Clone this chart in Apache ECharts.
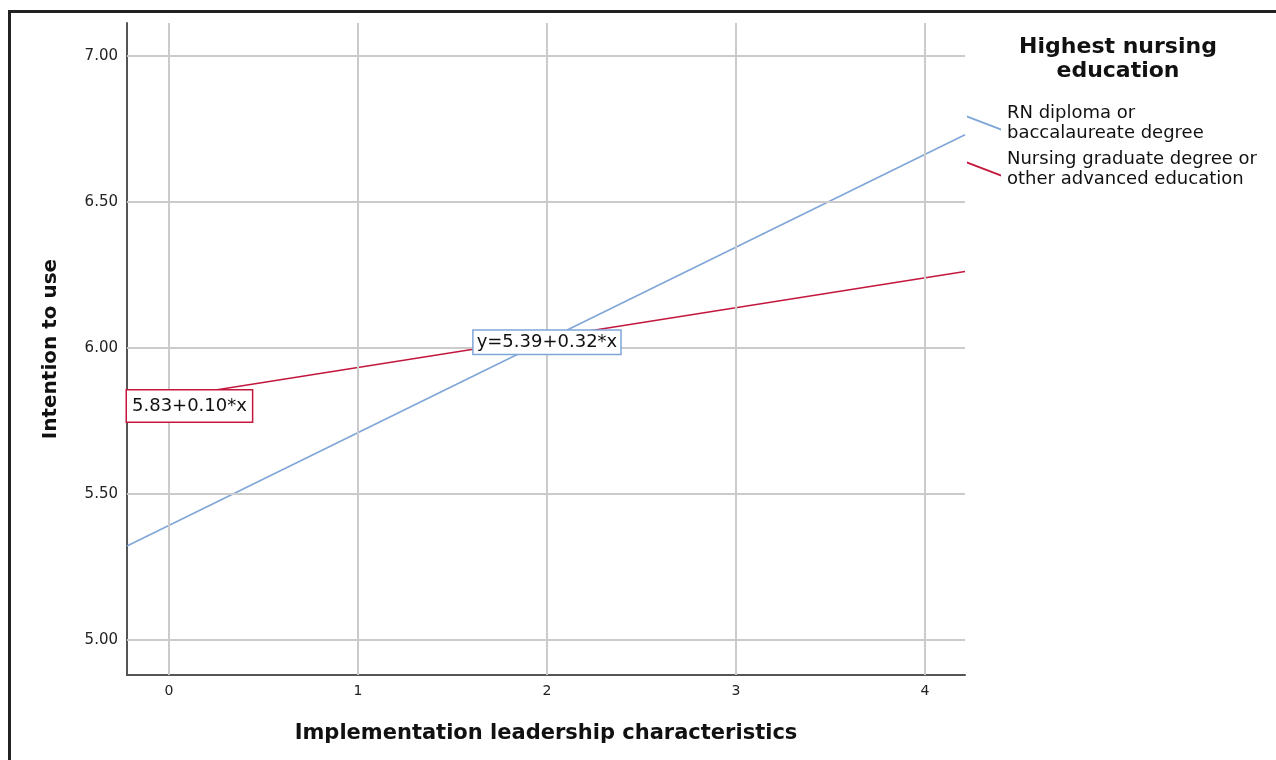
<!DOCTYPE html>
<html>
<head>
<meta charset="utf-8">
<script src="https://cdn.jsdelivr.net/npm/echarts@6/dist/echarts.min.js"></script>
<style>
html,body{margin:0;padding:0;background:#fff;}
#chart{width:1276px;height:760px;}
</style>
</head>
<body>
<div id="chart"></div>
<script>
// ---- data ----
var seriesNames = ['RN diploma or\nbaccalaureate degree', 'Nursing graduate degree or\nother advanced education'];
var xRange = [-0.222, 4.212];
var blueLine = [[-0.222, 5.322], [4.212, 6.73]];
var redLine = [[-0.222, 5.808], [4.212, 6.262]];
var blueLabel = 'y=5.39+0.32*x';
var redLabel = '5.83+0.10*x';
var blueLabelAt = [2, 6.03];
var redLabelAt = [-0.222, 5.808];
var yTicks = [5.0, 5.5, 6.0, 6.5, 7.0];
var xTicks = [0, 1, 2, 3, 4];
var yRange = [4.88, 7.113];

var BLUE = '#7fa6d8';
var RED = '#c4173d';
var FONT = 'DejaVu Sans';

var chart = echarts.init(document.getElementById('chart'), null, {renderer: 'canvas'});
var iconPath = 'path://M0,0 L34,13 L34,15 L0,2 Z';

chart.setOption({
  animation: false,
  backgroundColor: '#fff',
  textStyle: {fontFamily: FONT},
  title: {
    text: 'Highest nursing\neducation',
    left: 1113,
    top: 30,
    textAlign: 'center',
    textStyle: {fontFamily: FONT, fontWeight: 'bold', fontSize: 22, lineHeight: 24, color: '#111'}
  },
  legend: {
    orient: 'vertical',
    left: 962,
    top: 98,
    itemWidth: 34,
    itemHeight: 15,
    itemGap: 6,
    data: [
      {name: seriesNames[0], icon: iconPath},
      {name: seriesNames[1], icon: iconPath}
    ],
    textStyle: {fontFamily: FONT, fontSize: 18, lineHeight: 20, color: '#111', padding: [0,0,0,1]}
  },
  grid: {left: 127, right: 311, top: 23, bottom: 85, containLabel: false},
  xAxis: {
    type: 'value',
    min: xRange[0],
    max: xRange[1],
    name: 'Implementation leadership characteristics',
    nameLocation: 'middle',
    nameGap: 48,
    nameTextStyle: {fontFamily: FONT, fontWeight: 'bold', fontSize: 21, color: '#111'},
    axisLine: {show: true, onZero: false, lineStyle: {color: '#555', width: 2}},
    axisTick: {show: false},
    splitLine: {show: false},
    axisLabel: {
      fontFamily: FONT, fontSize: 14, color: '#222', margin: 9,
      customValues: xTicks,
      formatter: function (v) { return String(v); }
    }
  },
  yAxis: {
    type: 'value',
    min: yRange[0],
    max: yRange[1],
    name: 'Intention to use',
    nameLocation: 'middle',
    nameGap: 66,
    nameTextStyle: {fontFamily: FONT, fontWeight: 'bold', fontSize: 20, color: '#111'},
    axisLine: {show: true, onZero: false, lineStyle: {color: '#555', width: 2}},
    axisTick: {show: false},
    splitLine: {show: false},
    axisLabel: {
      fontFamily: FONT, fontSize: 15, color: '#222', margin: 9,
      customValues: yTicks,
      formatter: function (v) { return v.toFixed(2); }
    }
  },
  series: [
    {
      name: '_grid',
      type: 'line',
      data: [],
      silent: true,
      markLine: {
        silent: true,
        symbol: 'none',
        label: {show: false},
        lineStyle: {color: '#cbcbcb', width: 2, type: 'solid'},
        data: xTicks.map(function (v) { return {xAxis: v}; })
          .concat(yTicks.map(function (v) { return {yAxis: v}; }))
      },
      z: 1
    },
    {
      name: seriesNames[0],
      type: 'line',
      data: blueLine,
      showSymbol: false,
      symbol: 'none',
      lineStyle: {color: BLUE, width: 1.6},
      itemStyle: {color: BLUE},
      z: 3,
      markPoint: {
        symbol: 'rect',
        symbolSize: 0,
        data: [{coord: blueLabelAt}],
        label: {
          show: true, position: 'inside', offset: [0, 3],
          formatter: function () { return blueLabel; },
          fontFamily: FONT, fontSize: 18, color: '#111',
          backgroundColor: '#fff', borderColor: BLUE, borderWidth: 1.5,
          padding: [3, 3, 2, 3]
        },
        z: 6
      }
    },
    {
      name: seriesNames[1],
      type: 'line',
      data: redLine,
      showSymbol: false,
      symbol: 'none',
      lineStyle: {color: RED, width: 1.6},
      itemStyle: {color: RED},
      z: 3,
      markPoint: {
        symbol: 'rect',
        symbolSize: 0,
        data: [{coord: redLabelAt}],
        label: {
          show: true, position: 'right', distance: 0, offset: [0, 2],
          formatter: function () { return redLabel; },
          fontFamily: FONT, fontSize: 18, color: '#111',
          backgroundColor: '#fff', borderColor: RED, borderWidth: 1.5,
          padding: [7, 5, 6, 5]
        },
        z: 6
      }
    }
  ],
  graphic: [
    {type: 'rect', left: 8, top: 10, shape: {width: 1268, height: 3}, style: {fill: '#222'}, z: 100},
    {type: 'rect', left: 8, top: 10, shape: {width: 3, height: 750}, style: {fill: '#222'}, z: 100}
  ]
});
</script>
</body>
</html>
